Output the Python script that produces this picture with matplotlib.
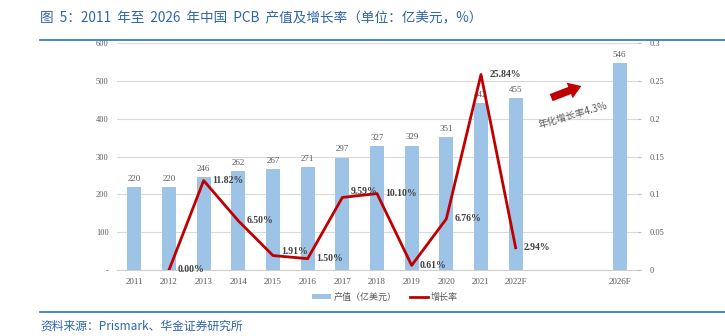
import matplotlib
matplotlib.use("Agg")
import matplotlib.pyplot as plt
from matplotlib.patches import Patch
from matplotlib.lines import Line2D
import numpy as np

plt.rcParams['font.family'] = ['Noto Sans CJK SC', 'DejaVu Sans']

categories = ["2011", "2012", "2013", "2014", "2015", "2016", "2017", "2018",
              "2019", "2020", "2021", "2022F", "", "", "2026F"]
output_values = [220, 220, 246, 262, 267, 271, 297, 327, 329, 351, 442, 455,
                 None, None, 546]
growth_values = [None, 0.0000, 0.1182, 0.0650, 0.0191, 0.0150, 0.0959, 0.1010,
                 0.0061, 0.0676, 0.2584, 0.0294, None, None, None]
growth_labels = ["", "0.00%", "11.82%", "6.50%", "1.91%", "1.50%", "9.59%",
                 "10.10%", "0.61%", "6.76%", "25.84%", "2.94%", "", "", ""]
left_ticks = [0, 100, 200, 300, 400, 500, 600]
left_tick_labels = ["-", "100", "200", "300", "400", "500", "600"]
right_ticks = [0, 0.05, 0.1, 0.15, 0.2, 0.25, 0.3]
right_tick_labels = ["0", "0.05", "0.1", "0.15", "0.2", "0.25", "0.3"]

title = "图  5：2011  年至  2026  年中国  PCB  产值及增长率（单位：亿美元，%）"
source = "资料来源：Prismark、华金证券研究所"
legend_bar = "产值（亿美元）"
legend_line = "增长率"
cagr_text = "年化增长率4.3%"

BAR = "#9DC3E6"
RED = "#C00000"
GRAY = "#595959"
BLUE = "#2E64B0"
SERIF = ["Liberation Serif", "Noto Sans CJK SC"]

fig = plt.figure(figsize=(7.25, 3.36), dpi=100)
ax = fig.add_axes([117/725, 1-270/336, 520/725, 227/336])
ax2 = ax.twinx()

x = np.arange(len(categories))
bar_idx = [i for i, v in enumerate(output_values) if v is not None]
bars = ax.bar([x[i] for i in bar_idx], [output_values[i] for i in bar_idx],
              width=0.4, color=BAR, zorder=2)
for i in bar_idx:
    ax.annotate(str(output_values[i]), (x[i], output_values[i]),
                xytext=(0, 3), textcoords="offset points", ha="center",
                va="bottom", fontsize=6.5, color=GRAY, family=SERIF)

ax.set_xlim(-0.5, len(categories) - 0.5)
ax.set_ylim(0, 600)
ax.set_yticks(left_ticks)
ax.set_yticklabels(left_tick_labels, family=SERIF, fontsize=6, color=GRAY)
ax.set_xticks(x)
ax.set_xticklabels(categories, family=SERIF, fontsize=6.5, color=GRAY)
ax.tick_params(axis="both", length=0, pad=6)
ax.grid(axis="y", color="#D9D9D9", linewidth=0.8, zorder=0)
ax.set_axisbelow(True)
for s in ["left", "right", "top"]:
    ax.spines[s].set_visible(False)
ax.spines["bottom"].set_color("#D0D0D0")
ax.spines["bottom"].set_linewidth(0.8)

gi = [i for i, v in enumerate(growth_values) if v is not None]
ax2.plot([x[i] for i in gi], [growth_values[i] for i in gi], color=RED,
         linewidth=2.0, zorder=5)
ax2.set_ylim(0, 0.3)
ax2.set_yticks(right_ticks)
ax2.set_yticklabels(right_tick_labels, family=SERIF, fontsize=6, color=GRAY)
ax2.tick_params(axis="y", length=3, color="#BFBFBF", pad=6)
for s in ["left", "right", "top", "bottom"]:
    ax2.spines[s].set_visible(False)

dys = {1: 0, 4: 3, 6: 4, 7: 0}
for i in gi:
    ax2.annotate(growth_labels[i], (x[i], growth_values[i]),
                 xytext=(6, dys.get(i, 0)), textcoords="offset points",
                 ha="left", va="center", fontsize=7, fontweight="bold",
                 color="#404040", family=SERIF, zorder=6)

# CAGR arrow and text
ax2.annotate("", xy=(0.898, 0.815), xycoords="axes fraction",
             xytext=(0.830, 0.755), textcoords="axes fraction",
             arrowprops=dict(arrowstyle="simple,head_width=1.2,head_length=0.9,tail_width=0.55",
                             mutation_scale=10, color=RED, lw=0))
ax2.text(0.877, 0.680, cagr_text, transform=ax2.transAxes, rotation=16,
         ha="center", va="center", fontsize=7, color=GRAY)

# legend
handles = [Patch(facecolor=BAR, edgecolor="none"),
           Line2D([0], [0], color=RED, linewidth=2)]
fig.legend(handles, [legend_bar, legend_line], loc="center",
           bbox_to_anchor=(385/725, 1-297/336), ncol=2, frameon=False,
           fontsize=6.5, labelcolor=GRAY, handlelength=2.0, handleheight=0.6,
           columnspacing=1.5, handletextpad=0.3)

# title and lines
fig.text(40/725, 1-18/336, title, fontsize=9.8, color=BLUE, ha="left",
         va="center")
fig.add_artist(Line2D([40/725, 1.0], [1-40/336, 1-40/336], color="#3C7DC4",
                      linewidth=1.3))
fig.add_artist(Line2D([40/725, 1.0], [1-312/336, 1-312/336], color="#3C7DC4",
                      linewidth=1.3))
fig.text(40/725, 1-326/336, source, fontsize=8.5, color=BLUE, ha="left",
         va="center", style="italic")

fig.savefig("out.png", dpi=100)
